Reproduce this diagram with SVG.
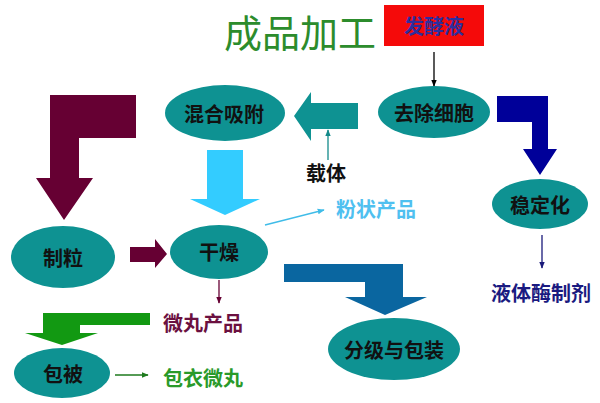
<svg xmlns="http://www.w3.org/2000/svg" width="600" height="403" viewBox="0 0 600 403">
<defs>
<style>
.node{fill:#0E9292;}
.lbl{font-family:"Noto Sans CJK SC","Noto Sans CJK TC",sans-serif;font-weight:bold;font-size:20px;text-anchor:middle;dominant-baseline:central;fill:#111;}
.free{font-family:"Noto Sans CJK SC",sans-serif;font-weight:bold;font-size:20px;text-anchor:middle;dominant-baseline:central;}
</style>
<marker id="ahK" viewBox="0 0 10 10" refX="9" refY="5" markerWidth="7" markerHeight="7" markerUnits="userSpaceOnUse" orient="auto"><path d="M0,1 L10,5 L0,9 Z" fill="#000"/></marker>
<marker id="ahT" viewBox="0 0 10 10" refX="9" refY="5" markerWidth="7" markerHeight="7" markerUnits="userSpaceOnUse" orient="auto"><path d="M0,1 L10,5 L0,9 Z" fill="#138A8A"/></marker>
<marker id="ahL" viewBox="0 0 10 10" refX="9" refY="5" markerWidth="7" markerHeight="7" markerUnits="userSpaceOnUse" orient="auto"><path d="M0,1 L10,5 L0,9 Z" fill="#3FBCE8"/></marker>
<marker id="ahM" viewBox="0 0 10 10" refX="9" refY="5" markerWidth="7" markerHeight="7" markerUnits="userSpaceOnUse" orient="auto"><path d="M0,1 L10,5 L0,9 Z" fill="#660033"/></marker>
<marker id="ahN" viewBox="0 0 10 10" refX="9" refY="5" markerWidth="7" markerHeight="7" markerUnits="userSpaceOnUse" orient="auto"><path d="M0,1 L10,5 L0,9 Z" fill="#1A1A7A"/></marker>
<marker id="ahG" viewBox="0 0 10 10" refX="9" refY="5" markerWidth="7" markerHeight="7" markerUnits="userSpaceOnUse" orient="auto"><path d="M0,1 L10,5 L0,9 Z" fill="#1E7A1E"/></marker>
</defs>
<rect width="600" height="403" fill="#fff"/>

<text x="300" y="30" font-family="Noto Sans CJK SC,sans-serif" font-size="38" fill="#2C8C2C" text-anchor="middle" dominant-baseline="central">成品加工</text>

<g id="connectors">
  <path d="M50,95 H136 V138 H79 V178 H93 L64,220 L36,178 H50 Z" fill="#660033"/>
  <path d="M358,103 H311 V92 L294,116 L311,141 V129 H358 Z" fill="#0E9292"/>
  <path d="M497,96 H548 V149 H557 L540,175 L523,149 H532 V122 H497 Z" fill="#000099"/>
  <path d="M207,150 H243 V199 H260 L225,215 L190,199 H207 Z" fill="#33CCFF"/>
  <path d="M130,247 H155 V239 L167,254 L155,268 V262 H130 Z" fill="#660033"/>
  <path d="M284,264 H403 V297 H427 L385,315 L345,297 H365 V282 H284 Z" fill="#0A66A0"/>
  <path d="M43,313 H150 V325 H80 V333 H98 L62,345 L25,333 H43 Z" fill="#129912"/>
  <line x1="434" y1="52" x2="434" y2="86" stroke="#000" stroke-width="1.3" marker-end="url(#ahK)"/>
  <line x1="328" y1="160" x2="328" y2="130" stroke="#138A8A" stroke-width="1.3" marker-end="url(#ahT)"/>
  <line x1="265" y1="225" x2="324" y2="210" stroke="#3FBCE8" stroke-width="1.3" marker-end="url(#ahL)"/>
  <line x1="219" y1="280" x2="219" y2="303" stroke="#660033" stroke-width="1.3" marker-end="url(#ahM)"/>
  <line x1="542" y1="235" x2="542" y2="268" stroke="#1A1A7A" stroke-width="1.3" marker-end="url(#ahN)"/>
  <line x1="115" y1="375" x2="148" y2="375" stroke="#1E7A1E" stroke-width="1.3" marker-end="url(#ahG)"/>
</g>

<g id="fermentation">
  <rect x="384" y="5" width="100" height="41" fill="#F50A0A"/>
  <text class="free" x="434" y="25" fill="#2E2E9E">发酵液</text>
</g>
<g id="remove-cells">
  <ellipse class="node" cx="434" cy="112" rx="56" ry="26"/>
  <text class="lbl" x="434" y="112">去除细胞</text>
</g>
<g id="mix-adsorb">
  <ellipse class="node" cx="225" cy="113" rx="60" ry="28"/>
  <text class="lbl" x="224" y="113">混合吸附</text>
</g>
<g id="carrier">
  <text class="free" x="326" y="172" fill="#111">载体</text>
</g>
<g id="granulate">
  <ellipse class="node" cx="63" cy="257" rx="52" ry="31"/>
  <text class="lbl" x="63" y="257">制粒</text>
</g>
<g id="dry">
  <ellipse class="node" cx="219" cy="252" rx="49" ry="27"/>
  <text class="lbl" x="219" y="251">干燥</text>
</g>
<g id="powder">
  <text class="free" x="376" y="208" fill="#4FC0F0">粉状产品</text>
</g>
<g id="stabilize">
  <ellipse class="node" cx="540" cy="204" rx="48" ry="25"/>
  <text class="lbl" x="540" y="204">稳定化</text>
</g>
<g id="liquid">
  <text class="free" x="541" y="292" fill="#1A1A80">液体酶制剂</text>
</g>
<g id="micro">
  <text class="free" x="203" y="322" fill="#6B1040">微丸产品</text>
</g>
<g id="grade-pack">
  <ellipse class="node" cx="394" cy="349" rx="66" ry="31"/>
  <text class="lbl" x="394" y="349">分级与包装</text>
</g>
<g id="coat">
  <ellipse class="node" cx="62" cy="373" rx="48" ry="25"/>
  <text class="lbl" x="63" y="373">包被</text>
</g>
<g id="coated">
  <text class="free" x="203" y="377" fill="#2A9A2A">包衣微丸</text>
</g>
</svg>
